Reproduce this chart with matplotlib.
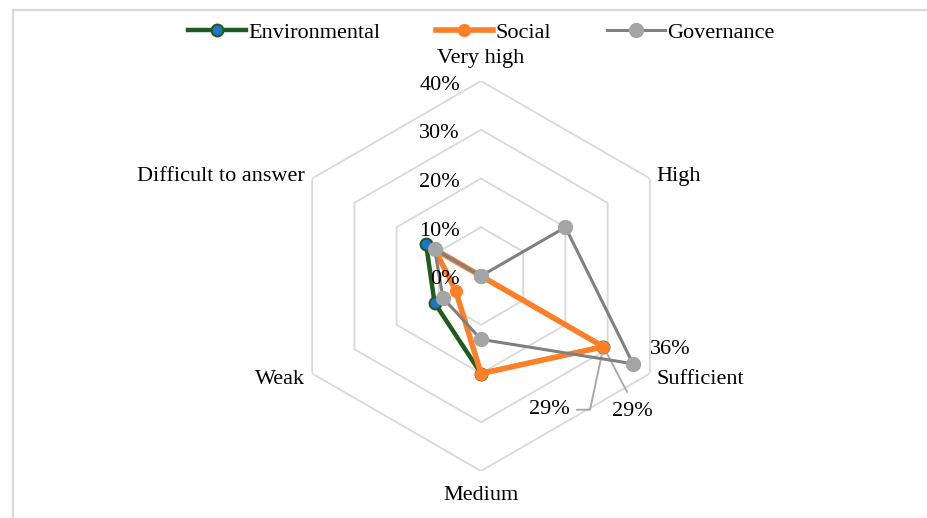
import numpy as np
import matplotlib
matplotlib.use('Agg')
import matplotlib.pyplot as plt
from matplotlib.patches import Rectangle

# ---- data (percent of respondents) ----
categories = ['Very high', 'High', 'Sufficient', 'Medium', 'Weak', 'Difficult to answer']
environmental = [0, 0, 29, 20, 11, 13]
social        = [0, 0, 29, 20, 6, 11]
governance    = [0, 20, 36, 13, 9, 11]
r_ticks = [0, 10, 20, 30, 40]
r_tick_labels = ['0%', '10%', '20%', '30%', '40%']

plt.rcParams['font.family'] = ['Liberation Serif', 'DejaVu Serif']
FS = 16
W, H, DPI = 928, 518, 100
fig = plt.figure(figsize=(W / DPI, H / DPI), dpi=DPI)

# chart-area border (only top and left edges visible)
fig.patches.append(Rectangle((13 / W, -0.1), 1.2, 1.1 - 10 / H, transform=fig.transFigure,
                             fill=False, edgecolor='#D9D9D9', lw=1.6))

cx, cy, rad = 481, 276, 195
ax = fig.add_axes([(cx - rad) / W, (H - cy - rad) / H, 2 * rad / W, 2 * rad / H],
                  projection='polar')
ax.set_theta_offset(np.pi / 2); ax.set_theta_direction(-1)
ax.set_ylim(0, 40)
ax.grid(False); ax.spines['polar'].set_visible(False)
ax.set_xticks([]); ax.set_yticks([])
ax.patch.set_alpha(0)

n = len(categories)
theta = np.linspace(0, 2 * np.pi, n, endpoint=False)
closed = np.append(theta, theta[0])

# hexagonal gridlines
for r in r_ticks[1:]:
    ax.plot(closed, [r] * (n + 1), color='#D9D9D9', lw=1.3, zorder=1)

def close(v):
    return list(v) + [v[0]]

ax.plot(closed, close(environmental), color='#1E5B1E', lw=3.2, marker='o', ms=8.5,
        mfc='#1F74C9', mec='#1E5B1E', mew=1.5, label='Environmental', zorder=3, clip_on=False)
ax.plot(closed, close(social), color='#FF7F27', lw=4, marker='o', ms=8.5,
        mfc='#FF7F27', mec='#FF7F27', label='Social', zorder=4, clip_on=False)
ax.plot(closed, close(governance), color='#808080', lw=2.2, marker='o', ms=10,
        mfc='#A5A5A5', mec='#A5A5A5', label='Governance', zorder=5, clip_on=False)

# radial tick labels along the top axis
for r, lab in zip(r_ticks, r_tick_labels):
    ax.annotate(lab, (0, r), xytext=(-21, -4), textcoords='offset pixels',
                ha='right', va='center', fontsize=FS, zorder=6)

# category labels
offsets = [(0, 23, 'center'), (7, 2, 'left'), (7, -6, 'left'),
           (0, -25, 'center'), (-7, -6, 'right'), (-7, 2, 'right')]
for t, lab, (dx, dy, ha) in zip(theta, categories, offsets):
    ax.annotate(lab, (t, 40), xytext=(dx, dy), textcoords='offset pixels',
                ha=ha, va='center', fontsize=FS)

# data labels for Sufficient
i = categories.index('Sufficient')
ax.annotate('%d%%' % governance[i], (theta[i], governance[i]), xytext=(37, 14),
            textcoords='offset pixels', ha='center', va='center', fontsize=FS)
ax.annotate('%d%%' % social[i], (theta[i], social[i]), xytext=(29, -65),
            textcoords='offset pixels', ha='center', va='center', fontsize=FS,
            arrowprops=dict(arrowstyle='-', color='#A5A5A5', lw=1.3, relpos=(0.5, 1),
                            shrinkA=6, shrinkB=2))
ax.annotate('%d%%' % environmental[i], (theta[i], environmental[i]), xytext=(-54, -63),
            textcoords='offset pixels', ha='center', va='center', fontsize=FS,
            arrowprops=dict(arrowstyle='-', color='#A5A5A5', lw=1.3, relpos=(1, 0.5),
                            shrinkA=3, shrinkB=2,
                            connectionstyle='angle,angleA=0,angleB=78,rad=0'))

fig.legend(loc='center', bbox_to_anchor=(481 / W, 1 - 33 / H), ncol=3, frameon=False,
           fontsize=FS, handlelength=2.6, handletextpad=0.1, columnspacing=2.5)

fig.savefig('out.png', dpi=DPI)
